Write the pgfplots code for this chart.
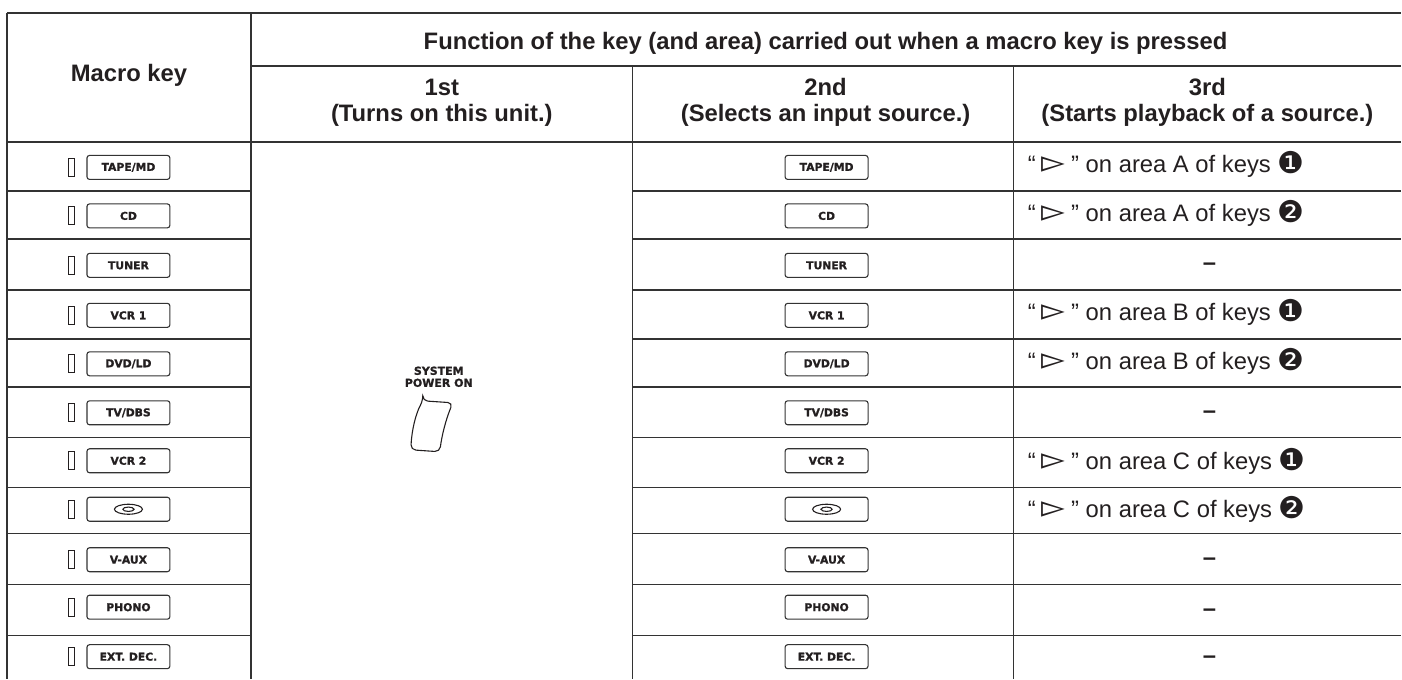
\documentclass[border=0pt]{standalone}
\usepackage{pgfplots}
\pgfplotsset{compat=1.18}
\usepackage{graphicx}
\usepackage{fontspec}
\setmainfont{Liberation Sans}
\newfontfamily\dejavu{DejaVu Sans}
\newfontfamily\keyfam{DejaVu Sans}[BoldFeatures={FakeBold=1.2}]
\definecolor{rule}{HTML}{333333}
\definecolor{ink}{HTML}{231F20}
% 1 px = 0.5 pt
\newcommand\keyfnt{\keyfam\bfseries\fontsize{5.4pt}{6pt}\selectfont}
\newcommand\bodyfnt{\fontsize{11.9pt}{13pt}\selectfont}
\newcommand\keybox[3]{%
  \draw[rule, line width=0.55pt, rounded corners=1.3pt] (axis cs:#1,#2) ++(-20.75pt,-6pt) rectangle ++(41.5pt,12pt);
  \node[inner sep=0pt, anchor=center, text=ink, font=\keyfnt] at (axis cs:#1,#2) {#3};}
\newcommand\disckey[2]{%
  \draw[rule, line width=0.55pt, rounded corners=1.3pt] (axis cs:#1,#2) ++(-20.75pt,-6pt) rectangle ++(41.5pt,12pt);
  \draw[ink, line width=0.55pt] (axis cs:#1,#2) ellipse [x radius=7pt, y radius=2.5pt];
  \draw[ink, line width=0.55pt] (axis cs:#1,#2) ellipse [x radius=2.8pt, y radius=1.1pt];}
\newcommand\indic[1]{%
  \draw[ink, line width=0.45pt] (axis cs:71,#1) ++(-1.5pt,-4.5pt) rectangle ++(3pt,9pt);}
\newcommand\macrorow[2]{\indic{#1}\keybox{128.5}{#1}{#2}\keybox{827}{#1}{#2}}
\newcommand\third[3]{%
  \node[anchor=base west, inner sep=0pt, text=ink, font=\bodyfnt] at (axis cs:1028,#1+6.5) {“\hspace{2.6pt}{\dejavu\scalebox{1.3}{▻}}\hspace{3.2pt}” on area #2 of keys {\dejavu\fontsize{15pt}{15pt}\selectfont\raisebox{-0.5pt}{#3}}};}
\newcommand\nothird[1]{%
  \node[anchor=base, inner sep=0pt, text=ink, font=\bodyfnt\bfseries] at (axis cs:1210,#1+6.5) {–};}
\begin{document}
\begin{tikzpicture}
\begin{axis}[
  scale only axis, width=701pt, height=339.5pt,
  xmin=0, xmax=1402, ymin=0, ymax=679, y dir=reverse,
  hide axis, clip=false]
\path (axis cs:0,0) rectangle (axis cs:1402,679);
% --- grid lines ---
\draw[rule, line width=0.7pt] (axis cs:7,13) -- (axis cs:1402,13);
\draw[rule, line width=0.7pt] (axis cs:251,66) -- (axis cs:1402,66);
\draw[rule, line width=0.7pt] (axis cs:7,142) -- (axis cs:1402,142);
\draw[rule, line width=0.7pt] (axis cs:7,13) -- (axis cs:7,679);
\draw[rule, line width=0.7pt] (axis cs:251,13) -- (axis cs:251,679);
\draw[rule, line width=0.7pt] (axis cs:633,66) -- (axis cs:633,679);
\draw[rule, line width=0.7pt] (axis cs:1014,66) -- (axis cs:1014,679);
\foreach \yy in {191,239,290,339,387,438,488,534,585,636}{
  \edef\temp{\noexpand\draw[rule, line width=0.7pt] (axis cs:7,\yy) -- (axis cs:251,\yy);
             \noexpand\draw[rule, line width=0.7pt] (axis cs:633,\yy) -- (axis cs:1402,\yy);}
  \temp}
% --- headers ---
\node[anchor=base, inner sep=0pt, text=ink, font=\bodyfnt\bfseries] at (axis cs:129,82) {Macro key};
\node[anchor=base, inner sep=0pt, text=ink, font=\bodyfnt\bfseries] at (axis cs:826,50) {Function of the key (and area) carried out when a macro key is pressed};
\node[anchor=base, inner sep=0pt, text=ink, font=\bodyfnt\bfseries] at (axis cs:442,96) {1st};
\node[anchor=base, inner sep=0pt, text=ink, font=\bodyfnt\bfseries] at (axis cs:442,122) {(Turns on this unit.)};
\node[anchor=base, inner sep=0pt, text=ink, font=\bodyfnt\bfseries] at (axis cs:826,96) {2nd};
\node[anchor=base, inner sep=0pt, text=ink, font=\bodyfnt\bfseries] at (axis cs:826,122) {(Selects an input source.)};
\node[anchor=base, inner sep=0pt, text=ink, font=\bodyfnt\bfseries] at (axis cs:1208,96) {3rd};
\node[anchor=base, inner sep=0pt, text=ink, font=\bodyfnt\bfseries] at (axis cs:1208,122) {(Starts playback of a source.)};
% --- rows ---
\macrorow{167.5}{TAPE/MD}
\macrorow{216}{CD}
\macrorow{265.5}{TUNER}
\macrorow{315.5}{VCR 1}
\macrorow{364}{DVD/LD}
\macrorow{413}{TV/DBS}
\macrorow{461}{VCR 2}
\indic{509.5}\disckey{128.5}{509.5}\disckey{827}{509.5}
\macrorow{560}{V-AUX}
\macrorow{607.5}{PHONO}
\macrorow{657}{EXT. DEC.}
\third{166.5}{A}{❶}
\third{215}{A}{❷}
\nothird{264.5}
\third{314.5}{B}{❶}
\third{363}{B}{❷}
\nothird{412.5}
\third{463}{C}{❶}
\third{511}{C}{❷}
\nothird{559.5}
\nothird{610.5}
\nothird{657.5}
% --- system power on ---
\node[anchor=base, inner sep=0pt, text=ink, font=\keyfam\bfseries\fontsize{5.5pt}{6pt}\selectfont] at (axis cs:439,375) {SYSTEM};
\node[anchor=base, inner sep=0pt, text=ink, font=\keyfam\bfseries\fontsize{5.5pt}{6pt}\selectfont] at (axis cs:439,387) {POWER ON};
\draw[ink, line width=0.55pt, rounded corners=2.5pt]
  (axis cs:423,401) -- (axis cs:453,403)
  .. controls (axis cs:446,420) and (axis cs:442,436) .. (axis cs:440,452)
  -- (axis cs:411,450)
  .. controls (axis cs:412,430) and (axis cs:416,414) .. cycle;
\end{axis}
\end{tikzpicture}
\end{document}
